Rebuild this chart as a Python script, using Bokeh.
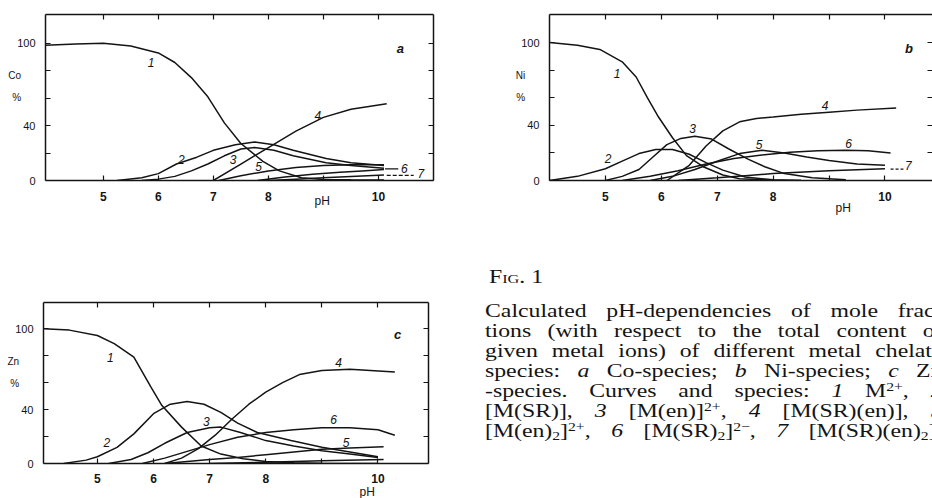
from bokeh.plotting import figure
from bokeh.models import LinearAxis, FixedTicker, Range1d, Label, Div, Title
from bokeh.layouts import row, column
from bokeh.embed import file_html
from bokeh.resources import INLINE

# ---------------- data ----------------
ph_ticks = [5, 6, 7, 8, 9, 10]
pct_ticks = [0, 20, 40, 60, 80, 100]
ph_labels = {9: ""}
pct_labels = {20: "", 60: "", 80: ""}

# a: Co species
co1_ph = [3.95, 4.5, 5.0, 5.5, 6.0, 6.3, 6.6, 6.9, 7.2, 7.5, 7.9, 8.2, 8.6, 9.0, 9.5, 10.1]
co1_pct = [98.5, 99.5, 100, 98, 93, 86, 75, 61, 42, 27, 14, 7, 2, 0.8, 0.5, 0.3]
co2_ph = [5.25, 5.7, 6.0, 6.33, 6.7, 7.0, 7.4, 7.75, 8.1, 8.45, 9.05, 9.5, 10.1]
co2_pct = [0, 2, 5, 12, 17, 22, 26, 28, 26, 22, 16, 13, 11]
co3_ph = [5.7, 6.0, 6.3, 6.6, 6.9, 7.2, 7.5, 7.75, 8.1, 8.45, 9.05, 9.5, 10.1]
co3_pct = [0, 1, 3, 7, 12, 18, 23, 24, 22, 18, 13, 11, 9]
co4_ph = [7.0, 7.5, 8.0, 8.5, 9.0, 9.5, 10.15]
co4_pct = [0, 12, 24, 36, 46, 52, 56]
co5_ph = [7.1, 7.5, 8.0, 8.5, 9.0, 9.5, 10.1]
co5_pct = [0, 3.5, 7, 9.5, 11, 11.5, 11.5]
co6_ph = [7.8, 8.3, 8.8, 9.3, 9.7, 10.1]
co6_pct = [0, 2.5, 4.5, 6, 7, 8]
co7_ph = [8.0, 8.5, 9.0, 9.5, 10.1]
co7_pct = [0, 1, 2, 3, 4]

# b: Ni species
ni1_ph = [4.0, 4.5, 4.9, 5.3, 5.55, 5.75, 5.95, 6.2, 6.45, 6.75, 7.1, 7.4, 8.0, 8.5]
ni1_pct = [100, 98, 95, 86, 75, 60, 46, 31, 18, 10, 4, 1.3, 0.2, 0]
ni2_ph = [4.0, 4.5, 5.0, 5.3, 5.6, 5.9, 6.2, 6.5, 6.8, 7.1, 7.5, 8.0, 8.5]
ni2_pct = [0, 3, 8.5, 14, 19.5, 22.5, 22.5, 19, 13, 7.5, 2.5, 0.5, 0]
ni3_ph = [5.0, 5.3, 5.6, 5.85, 6.1, 6.35, 6.6, 6.9, 7.2, 7.55, 7.85, 8.2, 8.7, 9.3]
ni3_pct = [0, 3, 8, 17, 26, 30.5, 32, 30, 23, 15.5, 10, 5, 2, 0.5]
ni4_ph = [6.1, 6.5, 6.8, 7.1, 7.4, 7.7, 8.0, 8.5, 9.0, 9.5, 10.2]
ni4_pct = [0, 11, 25, 36, 42.5, 45, 46, 48, 49.5, 51, 52.5]
ni5_ph = [5.8, 6.2, 6.6, 7.0, 7.4, 7.8, 8.2, 8.6, 9.0, 9.5, 10.0]
ni5_pct = [0, 3, 8, 14, 19.5, 22, 20, 17, 14.5, 12, 11]
ni6_ph = [5.3, 5.8, 6.3, 6.8, 7.3, 7.8, 8.3, 8.8, 9.3, 9.7, 10.1]
ni6_pct = [0, 3, 7, 12, 16, 18.5, 20.5, 21.5, 22, 21.5, 20]
ni7_ph = [6.3, 7.0, 7.5, 8.0, 9.0, 10.0]
ni7_pct = [0, 2, 3.5, 5, 7, 8.5]

# c: Zn species
zn1_ph = [4.04, 4.5, 5.0, 5.3, 5.65, 5.95, 6.15, 6.5, 6.85, 7.2, 7.6, 8.0, 8.5, 9.0, 10.0]
zn1_pct = [100, 99, 95, 89, 79, 57, 43, 27, 13, 7, 3.5, 1.5, 0.5, 0.2, 0]
zn2_ph = [4.4, 4.8, 5.0, 5.35, 5.65, 6.0, 6.3, 6.6, 6.9, 7.2, 7.5, 7.85, 8.45, 9.0, 9.5, 10.0]
zn2_pct = [0, 2.5, 5, 12, 22, 37, 44, 46, 44, 38, 30, 23, 17, 12, 8.5, 5]
zn3_ph = [5.2, 5.6, 5.9, 6.2, 6.6, 7.0, 7.2, 7.55, 8.0, 8.5, 9.0, 9.5, 10.0]
zn3_pct = [0, 3, 8, 15, 23, 26.5, 27, 23, 17, 13, 9.5, 7, 4.5]
zn4_ph = [6.2, 6.5, 6.8, 7.1, 7.4, 7.7, 8.0, 8.3, 8.6, 9.0, 9.5, 10.3]
zn4_pct = [0, 4, 11, 21, 33, 44, 53, 60, 66, 69, 70, 68]
zn5_ph = [6.2, 7.0, 7.5, 8.0, 8.5, 9.0, 9.5, 10.1]
zn5_pct = [0, 3, 4.5, 6.5, 8.5, 10.5, 11.5, 12.5]
zn6_ph = [5.8, 6.2, 6.6, 7.0, 7.5, 8.0, 8.5, 9.0, 9.5, 10.0, 10.3]
zn6_pct = [0, 4, 9, 14, 19.5, 23, 25, 26.5, 26.5, 25, 21]
zn7_ph = [7.0, 8.0, 9.0, 10.1]
zn7_pct = [0, 1, 2, 3]

# curve number labels: (text, ph, pct)
co_tags = [("1", 5.87, 86), ("2", 6.42, 15), ("3", 7.36, 15.5), ("4", 8.9, 47.5),
           ("5", 7.82, 10), ("6", 10.47, 9), ("7", 10.77, 5)]
ni_tags = [("1", 5.21, 77.5), ("2", 5.05, 16), ("3", 6.56, 37.5), ("4", 8.93, 54.5),
           ("5", 7.75, 26), ("6", 9.35, 27), ("7", 10.42, 11)]
zn_tags = [("1", 5.23, 79), ("2", 5.17, 15.5), ("3", 6.94, 31), ("4", 9.3, 75),
           ("5", 9.43, 15.5), ("6", 9.21, 33)]

INK = "#141414"


def panel(w, h, xr, yr, borders, metal, ph_offset, letter, letter_pos,
          curves, tags, right_line=True, x_standoff=11, ph_standoff=-6, ph_valign="bottom"):
    p = figure(width=w, height=h, x_range=Range1d(*xr), y_range=Range1d(*yr),
               output_backend="svg", toolbar_location=None, tools="",
               x_axis_location=None, y_axis_location=None)
    p.min_border_left, p.min_border_right, p.min_border_top, p.min_border_bottom = borders
    p.outline_line_color = None
    p.grid.visible = False
    p.background_fill_color = "white"
    p.border_fill_color = "white"
    bottom = LinearAxis(ticker=FixedTicker(ticks=ph_ticks), major_label_overrides=ph_labels)
    top = LinearAxis(ticker=FixedTicker(ticks=ph_ticks))
    left = LinearAxis(ticker=FixedTicker(ticks=pct_ticks), major_label_overrides=pct_labels)
    right = LinearAxis(ticker=FixedTicker(ticks=pct_ticks))
    p.add_layout(bottom, "below")
    p.add_layout(left, "left")
    p.add_layout(top, "above")
    p.add_layout(right, "right")
    for ax in (bottom, left, top, right):
        ax.axis_line_color = INK
        ax.axis_line_width = 1.5
        ax.major_tick_in = 5
        ax.major_tick_out = 0
        ax.major_tick_line_color = INK
        ax.major_tick_line_width = 1.2
        ax.minor_tick_line_color = None
        ax.major_label_text_font = "Liberation Sans"
        ax.major_label_text_color = INK
    for ax in (top, right):
        ax.major_label_text_color = None
        ax.major_label_text_font_size = "2px"
        ax.major_label_standoff = 0
    if not right_line:
        right.axis_line_color = None
    bottom.major_label_text_font_size = "12px"
    bottom.major_label_text_font_style = "bold"
    bottom.major_label_standoff = x_standoff
    left.major_label_text_font_size = "11px"
    left.major_label_standoff = 10
    left.axis_label = metal + "\n%\n"
    left.axis_label_orientation = "horizontal"
    left.axis_label_standoff = -7
    left.axis_label_text_font = "Liberation Sans"
    left.axis_label_text_font_size = "10px"
    left.axis_label_text_font_style = "normal"
    left.axis_label_text_line_height = 2.0
    left.axis_label_text_color = INK

    p.add_layout(Title(text="pH", align="left", offset=ph_offset, standoff=ph_standoff,
                       vertical_align=ph_valign,
                       text_font="Liberation Sans", text_font_size="12px",
                       text_font_style="normal", text_color=INK), "below")

    for xs, ys in curves:
        p.line(xs, ys, line_color=INK, line_width=1.5)

    for t, x, y in tags:
        p.add_layout(Label(x=x, y=y, text=t, text_font="Liberation Sans",
                           text_font_style="italic", text_font_size="12px",
                           text_color=INK, text_align="center", text_baseline="middle"))
    p.add_layout(Label(x=letter_pos[0], y=letter_pos[1], text=letter,
                       text_font="Liberation Sans", text_font_style="bold italic",
                       text_font_size="13px", text_color=INK,
                       text_align="center", text_baseline="middle"))
    return p


pa = panel(490, 258, (3.95, 11.0), (0, 121), (45, 57, 14, 78), "Co", 269, "a", (10.4, 96),
           [(co1_ph, co1_pct), (co2_ph, co2_pct), (co3_ph, co3_pct), (co4_ph, co4_pct),
            (co5_ph, co5_pct), (co6_ph, co6_pct), (co7_ph, co7_pct)], co_tags,
           ph_standoff=-20, ph_valign="top")
pa.line([10.12, 10.36], [8.5, 8.5], line_color=INK, line_width=1.2)
pa.line([10.15, 10.64], [3.8, 3.8], line_color=INK, line_width=1.2, line_dash="4 2")

pb = panel(442, 258, (4.0, 10.85), (0, 120.3), (59, 0, 14, 78), "Ni", 286, "b", (10.43, 96),
           [(ni1_ph, ni1_pct), (ni2_ph, ni2_pct), (ni3_ph, ni3_pct), (ni4_ph, ni4_pct),
            (ni5_ph, ni5_pct), (ni6_ph, ni6_pct), (ni7_ph, ni7_pct)], ni_tags,
           right_line=False, ph_standoff=-9)
pb.line([10.1, 10.33], [8.2, 8.2], line_color=INK, line_width=1.2, line_dash="3 2")

pc = panel(470, 240, (4.04, 10.9), (0, 119.5), (43, 42, 44, 35), "Zn", 316, "c", (10.35, 96),
           [(zn1_ph, zn1_pct), (zn2_ph, zn2_pct), (zn3_ph, zn3_pct), (zn4_ph, zn4_pct),
            (zn5_ph, zn5_pct), (zn6_ph, zn6_pct), (zn7_ph, zn7_pct)], zn_tags,
           x_standoff=10, ph_standoff=-6)

SUP = '<span style="font-size:66%;vertical-align:0.45em;line-height:0">{}</span>'
SUB = '<span style="font-size:66%;vertical-align:-0.25em;line-height:0">{}</span>'
J = '<div style="text-align:justify;text-align-last:justify;height:20px">{}</div>'
lines = [
    "Calculated pH-dependencies of mole frac-",
    "tions (with respect to the total content of",
    "given metal ions) of different metal chelate",
    "species: <i>a</i> Co-species; <i>b</i> Ni-species; <i>c</i> Zn",
    "-species. Curves and species: <i>1</i> M" + SUP.format("2+") + ", <i>2</i>",
    "[M(SR)], <i>3</i> [M(en)]" + SUP.format("2+") + ", <i>4</i> [M(SR)(en)], <i>5</i>",
    "[M(en)" + SUB.format("2") + "]" + SUP.format("2+") + ", <i>6</i> [M(SR)" + SUB.format("2")
    + "]" + SUP.format("2&minus;") + ", <i>7</i> [M(SR)(en)" + SUB.format("2") + "].",
]
html = (
    '<div style="position:relative;width:462px;height:240px;overflow:hidden;'
    'font-family:\'Liberation Serif\';color:#141414;background:white">'
    '<div style="position:absolute;left:19px;top:9px;font-size:19px;line-height:20px;'
    'font-variant:small-caps;transform:scaleX(1.25);transform-origin:0 0;white-space:nowrap">'
    'Fig. 1</div>'
    '<div style="position:absolute;left:15px;top:43px;width:366px;font-size:19px;'
    'line-height:20px;transform:scaleX(1.25);transform-origin:0 0">'
    + "".join(J.format(t) for t in lines) +
    '</div></div>'
)
cap = Div(text=html, width=462, height=240, margin=0, styles={"overflow": "hidden"})

layout = column(row(pa, pb), row(pc, cap))
open("out.html", "w").write(file_html(layout, INLINE))
